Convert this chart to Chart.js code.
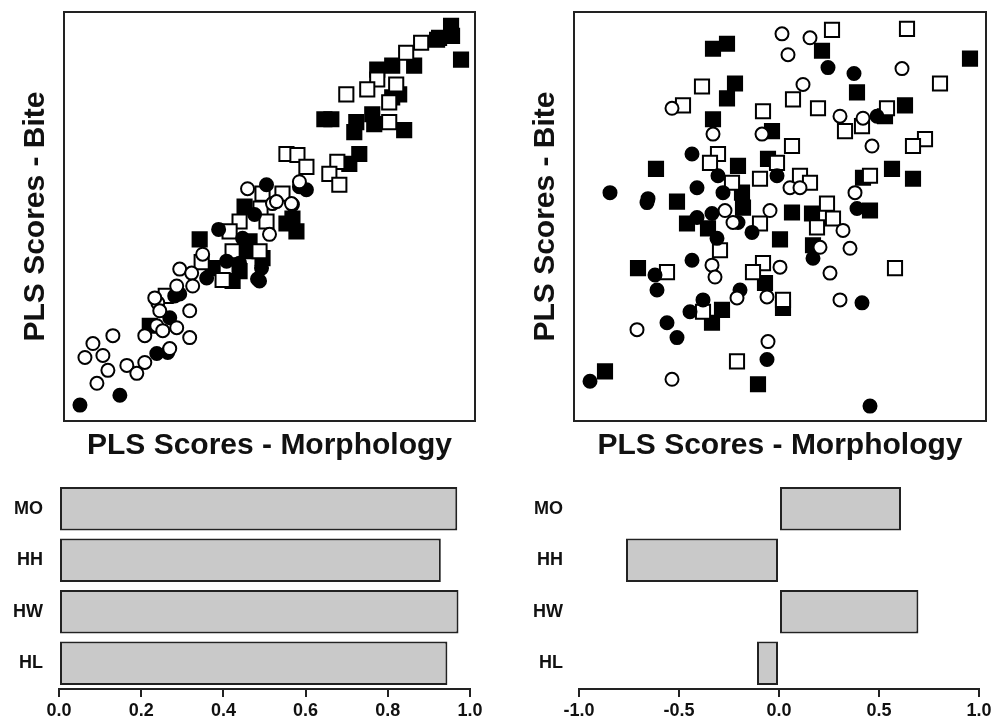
<!DOCTYPE html>
<html>
<head>
<meta charset="utf-8">
<script src="https://cdn.jsdelivr.net/npm/chart.js@4.4.1/dist/chart.umd.min.js"></script>
<style>
  body { margin: 0; background: #fff; }
  .box { position: absolute; }
</style>
</head>
<body>
<div class="box" style="left:0px;top:0px;width:500px;height:470px"><canvas id="scatterLeft"></canvas></div>
<div class="box" style="left:510px;top:0px;width:493px;height:470px"><canvas id="scatterRight"></canvas></div>
<div class="box" style="left:0px;top:470px;width:500px;height:252px"><canvas id="barLeft"></canvas></div>
<div class="box" style="left:500px;top:470px;width:503px;height:252px"><canvas id="barRight"></canvas></div>
<script>
'use strict';
// ---- data (PLS scores) ----
// left panel
const leftFilledSquares = [
    [1.82, 1.92], [1.70, 1.80], [1.83, 1.82], [1.92, 1.58], [1.68, 1.78], [1.08, 1.48], [1.23, 1.52],
    [1.45, 1.52], [1.30, 1.23], [1.23, 1.20], [0.55, 0.98], [0.62, 0.98], [0.87, 0.95], [1.03, 1.03],
    [0.85, 0.85], [1.35, 0.87], [1.05, 0.93], [0.90, 0.63], [0.80, 0.53], [-0.25, 0.10], [0.23, -0.02],
    [0.27, -0.15], [-0.70, -0.23], [-0.23, -0.35], [-0.37, -0.65], [-0.57, -0.52], [-1.20, -1.10],
    [-0.30, -0.55], [0.17, -0.07], [-0.07, -0.42], [-0.20, -0.25]
];
const leftOpenSquares = [
    [1.52, 1.75], [1.37, 1.65], [1.27, 1.33], [1.20, 1.15], [1.20, 0.95], [1.08, 1.38], [0.98, 1.28],
    [0.77, 1.23], [0.17, 0.63], [0.28, 0.62], [0.37, 0.50], [0.68, 0.55], [0.60, 0.43], [0.70, 0.32],
    [-0.07, 0.23], [0.13, 0.23], [-0.09, 0.08], [-0.03, -0.05], [-0.30, -0.05], [-0.40, -0.15],
    [-0.68, -0.46], [-0.37, -0.35], [-0.10, -0.35], [-0.47, -0.64], [-1.04, -0.80]
];
const leftOpenCircles = [
    [-0.22, 0.28], [0.30, 0.35], [0.03, 0.13], [0.00, -0.18], [-0.67, -0.38], [-0.90, -0.53], [-0.78, -0.57],
    [-0.77, -0.70], [-0.93, -0.70], [-1.12, -0.87], [-1.10, -0.95], [-0.80, -0.95], [-1.13, -1.10],
    [-0.93, -1.12], [-1.25, -1.20], [-0.80, -1.22], [-1.07, -1.15], [-1.57, -1.20], [-1.77, -1.28],
    [-1.85, -1.42], [-1.67, -1.40], [-1.62, -1.55], [-1.73, -1.68], [-1.43, -1.50], [-1.33, -1.58],
    [-1.25, -1.47], [-1.00, -1.33], [0.22, 0.13], [0.07, 0.15], [-1.15, -0.82]
];
const leftFilledCircles = [
    [-0.03, 0.32], [0.37, 0.27], [0.23, 0.12], [-0.51, -0.13], [-0.27, -0.22], [-0.08, -0.52], [-0.10, -0.65],
    [-0.30, -0.47], [-0.63, -0.62], [-0.95, -0.80], [-1.00, -1.02], [-1.13, -1.38], [-1.02, -1.37],
    [-1.50, -1.80], [-1.90, -1.90], [0.30, 0.30], [-0.43, -0.45], [-0.12, -0.63], [-0.90, -0.78], [-0.15, 0.02]
];
// right panel
const rightFilledSquares = [
    [-0.67, 1.69], [-0.53, 1.74], [0.42, 1.67], [1.90, 1.59], [-0.45, 1.34], [-0.53, 1.19], [0.77, 1.25],
    [1.25, 1.12], [1.05, 1.01], [-0.67, 0.98], [-0.08, 0.86], [-0.12, 0.58], [-0.42, 0.51], [-1.24, 0.48],
    [1.12, 0.48], [1.33, 0.38], [0.83, 0.39], [-1.03, 0.15], [-0.38, 0.24], [0.90, 0.06], [0.32, 0.03],
    [0.12, 0.04], [-0.93, -0.07], [-0.72, -0.12], [-0.37, 0.09], [0.00, -0.23], [0.33, -0.29],
    [-1.42, -0.52], [-0.15, -0.67], [-0.58, -0.94], [0.03, -0.92], [-0.68, -1.07], [-1.75, -1.56], [-0.22, -1.69]
];
const rightFilledCircles = [
    [0.48, 1.50], [0.74, 1.44], [-0.88, 0.63], [0.97, 1.01], [-1.70, 0.24], [-1.32, 0.18], [-0.62, 0.41],
    [-0.83, 0.29], [-0.03, 0.41], [-0.57, 0.24], [-1.33, 0.14], [-0.83, -0.01], [-0.68, 0.03], [-0.42, -0.06],
    [-0.28, -0.16], [-0.63, -0.22], [-0.88, -0.44], [0.33, -0.42], [-1.25, -0.59], [-1.23, -0.74],
    [-0.40, -0.74], [-0.77, -0.84], [-0.90, -0.96], [-1.13, -1.07], [-1.03, -1.22], [-0.13, -1.44],
    [-1.90, -1.66], [0.82, -0.87], [0.90, -1.91], [0.77, 0.08]
];
const rightOpenCircles = [
    [0.02, 1.84], [0.30, 1.80], [0.08, 1.63], [1.22, 1.49], [0.23, 1.33], [-1.08, 1.09], [0.60, 1.01],
    [0.83, 0.99], [0.92, 0.71], [-0.67, 0.83], [-0.18, 0.83], [0.75, 0.24], [0.10, 0.29], [0.20, 0.29],
    [-0.55, 0.06], [-0.10, 0.06], [-0.47, -0.06], [0.63, -0.14], [0.70, -0.32], [0.40, -0.31], [-0.68, -0.49],
    [-0.65, -0.61], [0.00, -0.51], [0.50, -0.57], [-0.43, -0.82], [-0.13, -0.81], [0.60, -0.84],
    [-1.43, -1.14], [-0.12, -1.26], [-1.08, -1.64]
];
const rightOpenSquares = [
    [0.52, 1.88], [1.27, 1.89], [-0.78, 1.31], [-0.97, 1.12], [0.13, 1.18], [0.38, 1.09], [-0.17, 1.06],
    [0.82, 0.91], [0.65, 0.86], [1.07, 1.09], [1.60, 1.34], [1.45, 0.78], [1.33, 0.71], [0.12, 0.71],
    [-0.62, 0.63], [-0.70, 0.54], [-0.03, 0.54], [-0.20, 0.38], [0.20, 0.41], [0.30, 0.34], [-0.48, 0.34],
    [0.90, 0.41], [0.47, 0.13], [-0.20, -0.07], [0.37, -0.11], [0.53, -0.02], [-0.60, -0.34], [-1.13, -0.56],
    [-0.17, -0.47], [-0.27, -0.56], [0.03, -0.84], [-0.77, -0.96], [1.15, -0.52], [-0.43, -1.46]
];
// loadings
const variables = ['MO', 'HH', 'HW', 'HL'];
const loadingsLeft = [0.969, 0.929, 0.972, 0.945];
const loadingsRight = [0.61, -0.765, 0.697, -0.11];

const fontFamily = '"Liberation Sans", Arial, sans-serif';
Chart.defaults.font.family = fontFamily;
Chart.defaults.color = '#111';

function pts(arr) {
    return arr.map(p => ({ x: p[0], y: p[1] }));
}

// frame round the plotting region like base R's box()
const frame = {
    id: 'frame',
    afterDatasetsDraw(chart) {
        const a = chart.chartArea;
        const ctx = chart.ctx;
        ctx.save();
        ctx.strokeStyle = '#222';
        ctx.lineWidth = 2;
        ctx.strokeRect(a.left, a.top, a.right - a.left, a.bottom - a.top);
        ctx.restore();
    }
};

function marker(data, style, filled) {
    return {
        data: pts(data),
        pointStyle: style,
        pointRadius: style === 'rect' ? 10 : 6.5,
        pointBackgroundColor: filled ? '#000' : '#fff',
        pointBorderColor: '#000',
        pointBorderWidth: 2,
        pointHoverRadius: style === 'rect' ? 10 : 6.5
    };
}

function scatterChart(id, sets, padRight) {
    new Chart(document.getElementById(id), {
        type: 'scatter',
        data: { datasets: sets },
        options: {
            responsive: true,
            maintainAspectRatio: false,
            animation: false,
            events: [],
            layout: { padding: { top: 9, right: padRight, bottom: 0, left: 0 } },
            plugins: { legend: { display: false }, tooltip: { enabled: false } },
            scales: {
                x: {
                    min: -2.06, max: 2.06,
                    ticks: { display: false },
                    grid: { display: false, drawTicks: false },
                    border: { display: false },
                    title: { display: true, text: 'PLS Scores - Morphology', font: { size: 30, weight: 'bold' }, padding: { top: 0, bottom: 6 } },
                    afterFit: s => { s.height = 49; }
                },
                y: {
                    min: -2.06, max: 2.06,
                    ticks: { display: false },
                    grid: { display: false, drawTicks: false },
                    border: { display: false },
                    title: { display: true, text: 'PLS Scores - Bite', font: { size: 30, weight: 'bold' }, padding: { top: 18, bottom: 0 } },
                    afterFit: s => { s.width = 64; }
                }
            }
        },
        plugins: [frame]
    });
}

scatterChart('scatterLeft', [
    marker(leftOpenCircles, 'circle', false),
    marker(leftFilledCircles, 'circle', true),
    marker(leftOpenSquares, 'rect', false),
    marker(leftFilledSquares, 'rect', true)
], 25);

scatterChart('scatterRight', [
    marker(rightOpenCircles, 'circle', false),
    marker(rightFilledCircles, 'circle', true),
    marker(rightOpenSquares, 'rect', false),
    marker(rightFilledSquares, 'rect', true)
], 17);

function barChart(id, values, min, max, step, yWidth, padRight) {
    new Chart(document.getElementById(id), {
        type: 'bar',
        data: {
            labels: variables,
            datasets: [{
                data: values,
                backgroundColor: '#c9c9c9',
                borderColor: '#222',
                borderWidth: 2,
                borderSkipped: false,
                barPercentage: 0.843,
                categoryPercentage: 1
            }]
        },
        options: {
            indexAxis: 'y',
            responsive: true,
            maintainAspectRatio: false,
            animation: false,
            events: [],
            layout: { padding: { top: 13, right: padRight, bottom: 0, left: 0 } },
            plugins: { legend: { display: false }, tooltip: { enabled: false } },
            scales: {
                x: {
                    min: min, max: max,
                    ticks: {
                        stepSize: step,
                        padding: 3,
                        font: { size: 18, weight: 'bold' },
                        callback: v => Number(v).toFixed(1)
                    },
                    grid: { display: true, drawOnChartArea: false, drawTicks: true, tickLength: 8, color: '#222', lineWidth: 2 },
                    border: { display: true, color: '#222', width: 2 },
                    afterFit: s => { s.height = 33; }
                },
                y: {
                    // label gap comes from tickLength (ticks themselves hidden) so it does not pad the chart area
                    ticks: { padding: 0, font: { size: 18, weight: 'bold' } },
                    grid: { display: false, drawTicks: true, tickLength: 16 },
                    border: { display: false },
                    afterFit: s => { s.width = yWidth; }
                }
            }
        }
    });
}

barChart('barLeft', loadingsLeft, 0, 1, 0.2, 59, 30);
barChart('barRight', loadingsRight, -1, 1, 0.5, 79, 24);
</script>
</body>
</html>
